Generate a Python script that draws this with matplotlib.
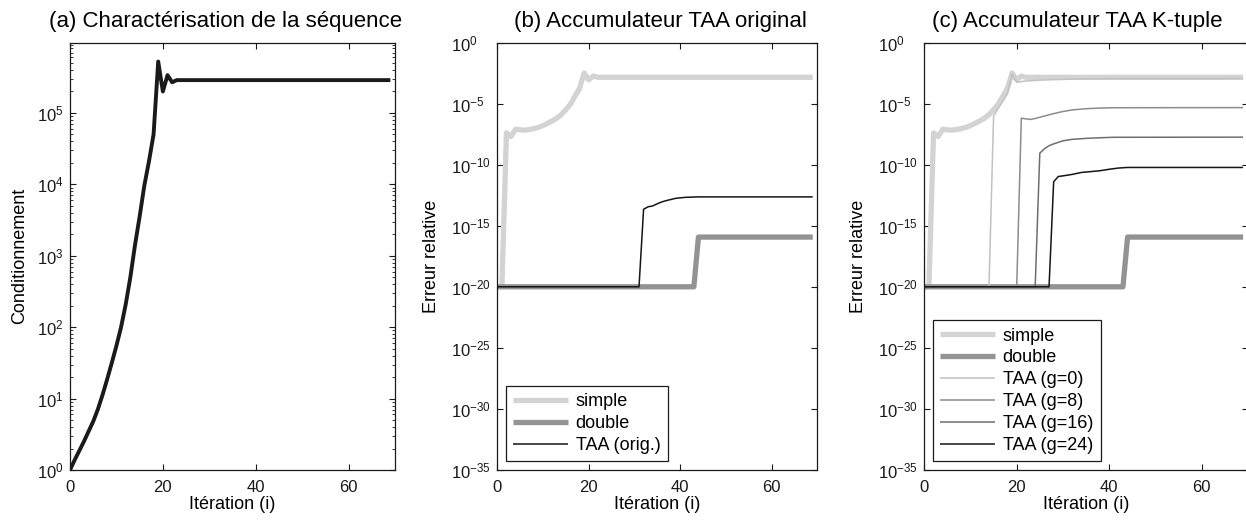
import numpy as np
import matplotlib
matplotlib.use("Agg")
import matplotlib.pyplot as plt
from matplotlib.ticker import FixedLocator, NullLocator, FuncFormatter, LogLocator

plt.rcParams['font.family'] = ['Liberation Sans', 'DejaVu Sans']
plt.rcParams['mathtext.default'] = 'regular'
plt.rcParams['axes.unicode_minus'] = True
plt.rcParams['lines.solid_capstyle'] = 'butt'

# ---- (a) condition number of the sequence (log10 values) ----
cond_x = [0, 1, 2, 3, 4, 5, 6, 7, 8, 9, 10, 11, 12, 13, 14, 15, 16, 17, 18,
          19, 20, 21, 22, 23, 69]
cond_log = [0.0, 0.14, 0.27, 0.40, 0.54, 0.68, 0.85, 1.05, 1.27, 1.50, 1.74,
            2.00, 2.32, 2.70, 3.15, 3.55, 3.98, 4.32, 4.70,
            5.72, 5.30, 5.53, 5.43, 5.46, 5.46]

# ---- relative errors (log10 values) ----
simple_x = [0, 1, 2, 3, 4, 5, 6, 7, 8, 9, 10, 11, 12, 13, 14, 15, 16, 17, 18,
            19, 20, 21, 22, 69]
simple_log = [-20, -20, -7.40, -7.70, -7.10, -7.15, -7.18, -7.12, -7.05, -6.95,
              -6.80, -6.62, -6.42, -6.20, -5.90, -5.50, -5.05, -4.40, -3.75,
              -2.50, -3.05, -2.75, -2.85, -2.85]

double_x = [0, 43, 44, 69]
double_log = [-20, -20, -15.93, -15.93]

taa_orig_x = [0, 31, 32, 33, 34, 35, 36, 37, 38, 39, 41, 44, 69]
taa_orig_log = [-20, -20, -13.65, -13.45, -13.38, -13.20, -13.05, -12.94,
                -12.85, -12.76, -12.68, -12.64, -12.64]

taa_g0_x = [0, 14, 15, 16, 17, 18, 19, 20, 21, 22, 25, 30, 35, 40, 69]
taa_g0_log = [-20, -20, -6.00, -5.40, -4.80, -4.20, -2.60, -3.25, -3.20,
              -3.15, -3.08, -3.02, -2.98, -2.96, -2.95]

taa_g8_x = [0, 20, 21, 22, 23, 24, 26, 28, 30, 32, 35, 38, 41, 69]
taa_g8_log = [-20, -20, -6.20, -6.25, -6.30, -6.22, -6.02, -5.82, -5.65,
              -5.52, -5.42, -5.37, -5.34, -5.33]

taa_g16_x = [0, 24, 25, 26, 27, 28, 30, 32, 35, 38, 41, 69]
taa_g16_log = [-20, -20, -9.06, -8.70, -8.45, -8.30, -8.05, -7.93, -7.85,
               -7.80, -7.76, -7.75]

taa_g24_x = [0, 27, 28, 29, 30, 32, 34, 36, 38, 40, 42, 44, 69]
taa_g24_log = [-20, -20, -11.40, -10.97, -10.92, -10.80, -10.64, -10.57,
               -10.50, -10.38, -10.28, -10.23, -10.23]

x_ticks = [0, 20, 40, 60]
cond_ticks = [0, 1, 2, 3, 4, 5]
err_ticks = [0, -5, -10, -15, -20, -25, -30, -35]

C_SIMPLE = '#d3d3d3'
C_DOUBLE = '#939393'
C_G0 = '#c2c2c2'
C_G8 = '#8c8c8c'
C_G16 = '#6e6e6e'
C_G24 = '#151515'

W, H = 1246, 521
fig = plt.figure(figsize=(W / 100, H / 100), dpi=100)


def px_axes(left, right, top, bottom):
    return fig.add_axes([left / W, 1 - bottom / H, (right - left) / W, (bottom - top) / H])


def px2pt(p):
    return p * 72 / 100


pow_fmt = FuncFormatter(lambda v, p: r'$10^{%d}$' % int(round(np.log10(v))))


def style(ax, ylab_pad_px, ylabel, ylabel_x):
    for s in ax.spines.values():
        s.set_linewidth(0.9)
        s.set_color('#1a1a1a')
    ax.tick_params(which='both', direction='in', top=True, right=True,
                   labelsize=12, colors='#1a1a1a')
    ax.tick_params(which='major', length=4, width=0.8)
    ax.tick_params(which='minor', length=2.2, width=0.6)
    ax.tick_params(axis='x', pad=7)
    # y tick labels: "10" bases share a common left edge
    ax.tick_params(axis='y', pad=px2pt(ylab_pad_px))
    for lab in ax.get_yticklabels():
        lab.set_horizontalalignment('left')
    ax.set_xlim(0, 70)
    ax.xaxis.set_major_locator(FixedLocator(x_ticks))
    ax.set_xlabel('Itération (i)', fontsize=13, labelpad=1)
    ax.set_ylabel(ylabel, fontsize=13, va='center')
    ax.yaxis.set_label_coords(ylabel_x, 0.5)


def legend(ax, w, h):
    leg = ax.legend(loc='lower left', bbox_to_anchor=(8.5 / w, 8.5 / h),
                    borderaxespad=0, fontsize=13, handlelength=3.05,
                    handletextpad=0.4, labelspacing=0.27, borderpad=0.42,
                    fancybox=False, framealpha=1)
    leg.get_frame().set_edgecolor('#1a1a1a')
    leg.get_frame().set_linewidth(0.9)


def error_axes(ax, title, title_x, ylabel_x):
    ax.set_yscale('log')
    ax.set_ylim(1e-35, 1)
    ax.yaxis.set_major_locator(FixedLocator(10.0 ** np.array(err_ticks)))
    ax.yaxis.set_minor_locator(NullLocator())
    ax.yaxis.set_major_formatter(pow_fmt)
    style(ax, 46.5, 'Erreur relative', ylabel_x)
    ax.set_title(title, fontsize=16, pad=11, x=title_x)


# (a)
ax1 = px_axes(70, 395, 42.5, 470)
ax1.set_yscale('log')
ax1.plot(cond_x, 10.0 ** np.array(cond_log), color='#1a1a1a', lw=2.8)
ax1.set_ylim(1, 9.7e5)
ax1.yaxis.set_major_locator(FixedLocator(10.0 ** np.array(cond_ticks)))
ax1.yaxis.set_minor_locator(LogLocator(base=10, subs=np.arange(2, 10)))
ax1.yaxis.set_major_formatter(pow_fmt)
style(ax1, 32.7, 'Conditionnement', (19.5 - 70) / 325)
ax1.set_title('(a) Charactérisation de la séquence', fontsize=16, pad=11,
              x=(226 - 70) / 325)

# (b)
ax2 = px_axes(497.3, 817.3, 42.5, 470)
ax2.plot(simple_x, 10.0 ** np.array(simple_log), color=C_SIMPLE, lw=3.8, label='simple')
ax2.plot(double_x, 10.0 ** np.array(double_log), color=C_DOUBLE, lw=3.8, label='double')
ax2.plot(taa_orig_x, 10.0 ** np.array(taa_orig_log), color=C_G24, lw=1.1, label='TAA (orig.)')
error_axes(ax2, '(b) Accumulateur TAA original', (660 - 497.3) / 320,
           (431.5 - 497.3) / 320)
legend(ax2, 320, 427.5)

# (c)
ax3 = px_axes(924.3, 1247.7, 42.5, 470)
ax3.plot(simple_x, 10.0 ** np.array(simple_log), color=C_SIMPLE, lw=3.8, label='simple')
ax3.plot(double_x, 10.0 ** np.array(double_log), color=C_DOUBLE, lw=3.8, label='double')
ax3.plot(taa_g0_x, 10.0 ** np.array(taa_g0_log), color=C_G0, lw=1.1, label='TAA (g=0)')
ax3.plot(taa_g8_x, 10.0 ** np.array(taa_g8_log), color=C_G8, lw=1.1, label='TAA (g=8)')
ax3.plot(taa_g16_x, 10.0 ** np.array(taa_g16_log), color=C_G16, lw=1.1, label='TAA (g=16)')
ax3.plot(taa_g24_x, 10.0 ** np.array(taa_g24_log), color=C_G24, lw=1.1, label='TAA (g=24)')
error_axes(ax3, '(c) Accumulateur TAA K-tuple', (1077.5 - 924.3) / 323.4,
           (858.5 - 924.3) / 323.4)
legend(ax3, 323.4, 427.5)

fig.savefig('out.png', dpi=100)
